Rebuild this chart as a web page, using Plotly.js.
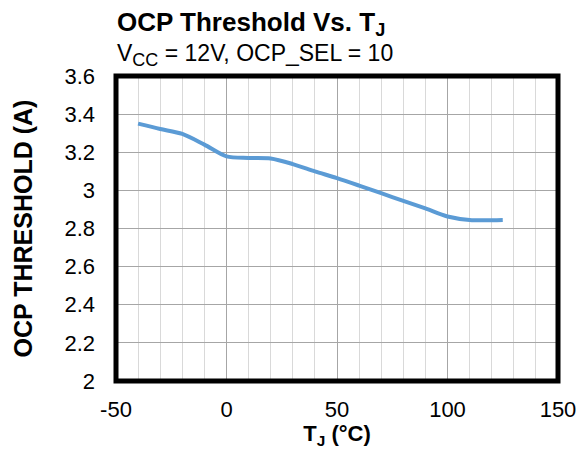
<!DOCTYPE html>
<html>
<head>
<meta charset="utf-8">
<script src="https://cdn.plot.ly/plotly-3.0.1.min.js"></script>
<style>html,body{margin:0;padding:0;background:#fff;}#chart{width:579px;height:449px;}</style>
</head>
<body>
<div id="chart"></div>
<script>
// Data
const tempC = [-40, -30, -20, -10, 0, 10, 20, 30, 40, 50, 60, 70, 80, 90, 100, 110, 125];
const ocpThreshold = [3.35, 3.322, 3.296, 3.24, 3.178, 3.17, 3.167, 3.138, 3.1, 3.064, 3.025, 2.985, 2.945, 2.905, 2.863, 2.845, 2.845];
const xTicks = [-50, 0, 50, 100, 150];
const yTicks = [2, 2.2, 2.4, 2.6, 2.8, 3, 3.2, 3.4, 3.6];
const yTickText = ['2', '2.2', '2.4', '2.6', '2.8', '3', '3.2', '3.4', '3.6'];

const font = 'Liberation Sans, Arial, sans-serif';

const trace = {
  x: tempC,
  y: ocpThreshold,
  type: 'scatter',
  mode: 'lines',
  line: {color: '#5B9BD5', width: 4, shape: 'spline', smoothing: 0.8},
  hoverinfo: 'skip'
};

const layout = {
  width: 579,
  height: 449,
  margin: {l: 115.5, r: 21, t: 75.5, b: 67.5},
  paper_bgcolor: '#fff',
  plot_bgcolor: '#fff',
  showlegend: false,
  font: {family: font, color: '#000', size: 22},
  xaxis: {
    range: [-50, 150],
    tickmode: 'array',
    tickvals: xTicks,
    ticktext: xTicks.map(String),
    showgrid: true,
    gridcolor: '#a6a6a6',
    gridwidth: 1,
    minor: {dtick: 10, showgrid: true, gridcolor: '#d9d9d9', gridwidth: 1},
    zeroline: false,
    showline: false,
    ticks: '',
    ticklabelstandoff: 13,
    tickfont: {family: font, size: 22, color: '#000'},
    title: {text: '<b>T<sub>J</sub> (°C)</b>', font: {family: font, size: 22, color: '#000'}, standoff: 0},
    fixedrange: true
  },
  yaxis: {
    range: [2, 3.6],
    tickmode: 'array',
    tickvals: yTicks,
    ticktext: yTickText,
    showgrid: true,
    gridcolor: '#a6a6a6',
    gridwidth: 1,
    zeroline: false,
    showline: false,
    ticks: '',
    ticklabelstandoff: 20,
    tickfont: {family: font, size: 22, color: '#000'},
    title: {text: '<b>OCP THRESHOLD (A)</b>', font: {family: font, size: 25, color: '#000'}, standoff: 24},
    fixedrange: true
  },
  shapes: [{
    type: 'rect', xref: 'paper', yref: 'paper', x0: 0, x1: 1, y0: 0, y1: 1,
    line: {color: '#000', width: 5}, fillcolor: 'rgba(0,0,0,0)', layer: 'above'
  }],
  annotations: [
    {
      text: '<b>OCP Threshold Vs. T<sub>J</sub></b>',
      xref: 'paper', yref: 'paper', x: -0.002, y: 1.172,
      xanchor: 'left', yanchor: 'middle', showarrow: false,
      font: {family: font, size: 26, color: '#000'}
    },
    {
      text: 'V<sub><span style="font-size:18px">CC</span></sub> = 12V, OCP_SEL = 10',
      xref: 'paper', yref: 'paper', x: -0.002, y: 1.068,
      xanchor: 'left', yanchor: 'middle', showarrow: false,
      font: {family: font, size: 23, color: '#000'}
    }
  ]
};

Plotly.newPlot('chart', [trace], layout, {displayModeBar: false, staticPlot: true});
</script>
</body>
</html>
